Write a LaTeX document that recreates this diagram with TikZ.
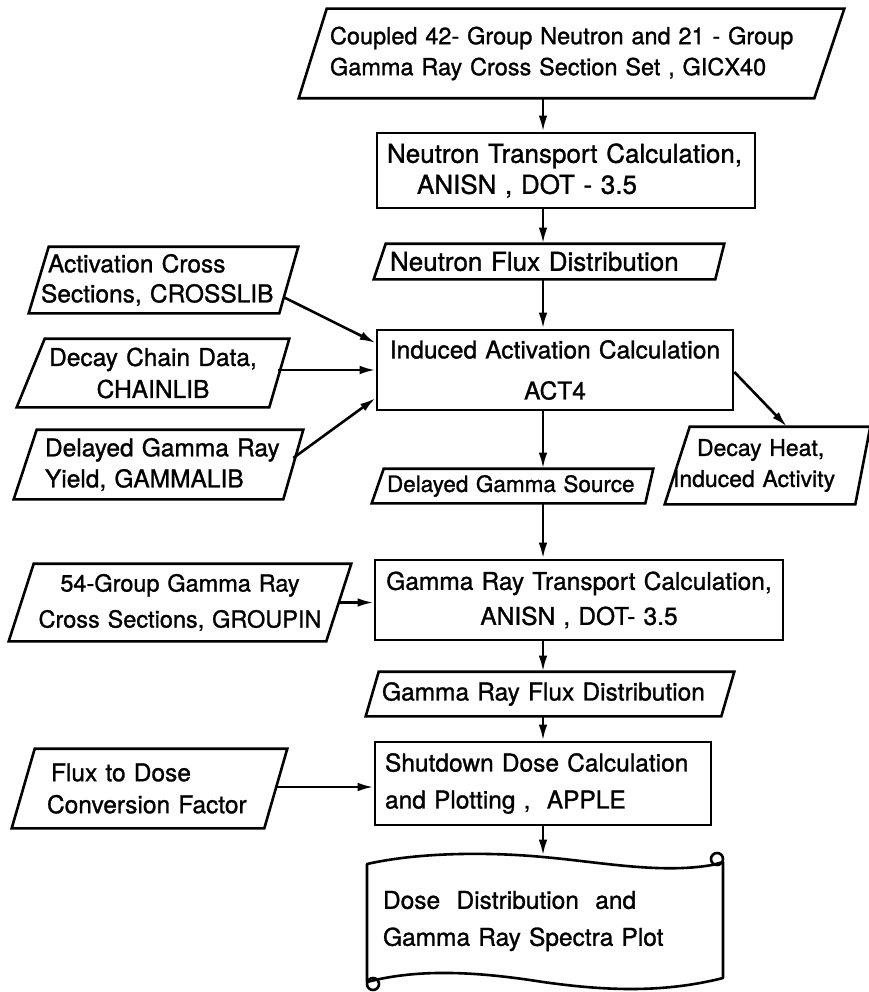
\documentclass[tikz,border=0pt]{standalone}
\usepackage{fontspec}
\setmainfont[FakeBold=1.1]{TeX Gyre Heros}
\usetikzlibrary{arrows.meta,calc}
\newcommand{\iopara}[3]{\draw[line width=2.6pt, line join=miter] ([xshift=#2pt]#1.north west) -- (#1.north east) -- ([xshift=-#3pt]#1.south east) -- (#1.south west) -- cycle;}
\newcommand{\fs}[2]{\fontsize{#1}{#2}\selectfont}
\begin{document}
\begin{tikzpicture}[x=1pt,y=-1pt,
  line width=2.6pt,
  every node/.style={font=\fs{24.5}{32}, inner ysep=0pt},
  proc/.style={draw, line width=2.6pt},
  iobox/.style={draw=none},
  arr/.style={-{Latex[length=16pt,width=8.5pt]}, line width=2.6pt}]
\fill[white] (0,0) rectangle (869,992);
\useasboundingbox (0,0) rectangle (869,992);
\coordinate (cx) at (543,0);

% main column
\node[iobox, minimum width=543pt, minimum height=87pt, text width=483pt, inner xsep=30pt, align=left, font=\fs{23.5}{31}] (gicx) at (571.5,53.5)
  {\mbox{Coupled 42- Group Neutron and 21 - Group}\\\mbox{Gamma Ray Cross Section Set , GICX40}};
\iopara{gicx}{28}{30}

\node[proc, minimum width=378pt, minimum height=75pt, text width=358pt, inner xsep=10pt, align=left, font=\fs{26}{31}] (ntc) at (566,170.5)
  {\mbox{Neutron Transport Calculation,}\\\mbox{\hspace*{30pt}ANISN , DOT - 3.5}};

\node[iobox, minimum width=348pt, minimum height=33pt, text width=318pt, inner xsep=15pt, align=left, font=\fs{26}{30}] (nfd) at (549,261.5)
  {\mbox{Neutron Flux Distribution}};
\iopara{nfd}{12}{9}

\node[proc, minimum width=356pt, minimum height=80pt, text width=340pt, inner xsep=8pt, align=center, font=\fs{24.5}{41}] (iac) at (555,370)
  {\mbox{Induced Activation Calculation}\\ACT4};

\node[iobox, minimum width=279pt, minimum height=32pt, text width=251pt, inner xsep=14pt, align=left, font=\fs{22.5}{28}] (dgs) at (512.5,486)
  {\mbox{Delayed Gamma Source}};
\iopara{dgs}{12}{8}

\node[iobox, minimum width=201pt, minimum height=75pt, text width=189pt, inner xsep=7pt, align=left, font=\fs{23}{31}] (dh) at (767.5,465.5)
  {\mbox{\hspace*{24pt}Decay Heat,}\\\mbox{Induced Activity}};
\iopara{dh}{25}{15}

\node[proc, minimum width=408pt, minimum height=80pt, text width=392pt, inner xsep=8pt, align=center, font=\fs{24.5}{35}] (gtc) at (579,600)
  {\mbox{Gamma Ray Transport Calculation,}\\\mbox{ANISN , DOT- 3.5}};

\node[iobox, minimum width=366pt, minimum height=42pt, text width=336pt, inner xsep=15pt, align=left] (grfd) at (550,694)
  {\mbox{Gamma Ray Flux Distribution}};
\iopara{grfd}{13}{13}

\node[proc, minimum width=336pt, minimum height=83pt, text width=316pt, inner xsep=10pt, align=left, font=\fs{24.5}{37}] (sdc) at (543,783.5)
  {\mbox{Shutdown Dose Calculation}\\\mbox{and Plotting ,\ \ APPLE}};

\node[iobox, minimum width=356pt, minimum height=122pt, text width=324pt, inner xsep=16pt, align=left, font=\fs{24.5}{37}] (doc) at (545,921)
  {\mbox{Dose\ \ Distribution\ \ and}\\\mbox{Gamma Ray Spectra Plot}};
\draw[line join=round] (367,864) .. controls (420,852) and (490,852) .. (543,857)
  .. controls (600,862) and (660,874) .. (712,865) -- (723,862) -- (723,978)
  .. controls (660,994) and (600,990) .. (543,982)
  .. controls (480,972) and (420,968) .. (367,982) -- cycle;
\draw (717,859) circle (6);
\draw (373,984) circle (6);

% left inputs
\node[iobox, minimum width=267pt, minimum height=64pt, text width=245pt, inner xsep=11pt, align=left, font=\fs{24.5}{30}] (acs) at (163.5,280)
  {\mbox{\hspace*{7pt}Activation Cross}\\\mbox{Sections, CROSSLIB}};
\iopara{acs}{20}{19}

\node[iobox, minimum width=270pt, minimum height=66pt, text width=250pt, inner xsep=10pt, align=center] (dcd) at (153,373)
  {\mbox{Decay Chain Data,}\\CHAINLIB};
\iopara{dcd}{28}{20}

\node[iobox, minimum width=287pt, minimum height=67pt, text width=227pt, inner xsep=30pt, align=left, font=\fs{24.5}{31}] (dgy) at (158.5,464.5)
  {\mbox{Delayed Gamma Ray}\\\mbox{Yield, GAMMALIB}};
\iopara{dgy}{23}{20}

\node[iobox, minimum width=340pt, minimum height=75pt, text width=300pt, inner xsep=20pt, align=center, font=\fs{23.5}{36}] (gcs) at (180,602.5)
  {\mbox{54-Group Gamma Ray}\\\mbox{Cross Sections, GROUPIN}};
\iopara{gcs}{25}{25}

\node[iobox, minimum width=273pt, minimum height=77pt, text width=205pt, inner xsep=34pt, align=left] (ftd) at (149.5,788.5)
  {\mbox{\hspace*{4pt}Flux to Dose}\\\mbox{Conversion Factor}};
\iopara{ftd}{23}{23}

% connectors
\draw[arr] (gicx.south -| cx) -- (ntc.north -| cx);
\draw[arr] (ntc.south -| cx) -- (nfd.north -| cx);
\draw[arr] (nfd.south -| cx) -- (iac.north -| cx);
\draw[arr] (iac.south -| cx) -- (dgs.north -| cx);
\draw[arr] (dgs.south -| cx) -- (gtc.north -| cx);
\draw[arr] (gtc.south -| cx) -- (grfd.north -| cx);
\draw[arr] (grfd.south -| cx) -- (sdc.north -| cx);
\draw[arr] (sdc.south -| cx) -- ($(doc.north -| cx)+(0,-3)$);

\draw[arr] ([xshift=-15pt,yshift=-17pt]acs.east) -- ([yshift=27pt]iac.west);
\draw[arr] ([xshift=-11pt,yshift=3pt]dcd.east) -- (iac.west);
\draw[arr] ([xshift=-10pt,yshift=6.5pt]dgy.east) -- ([yshift=-28pt]iac.west);
\draw[arr] ([yshift=-2pt]iac.east) -- ([xshift=19.5pt]dh.north);
\draw[arr] ([xshift=-12pt]gcs.east) -- (gcs.east -| gtc.west);
\draw[arr] ([xshift=-11pt,yshift=1.5pt]ftd.east) -- ([yshift=1.5pt]ftd.east -| sdc.west);
\end{tikzpicture}
\end{document}
